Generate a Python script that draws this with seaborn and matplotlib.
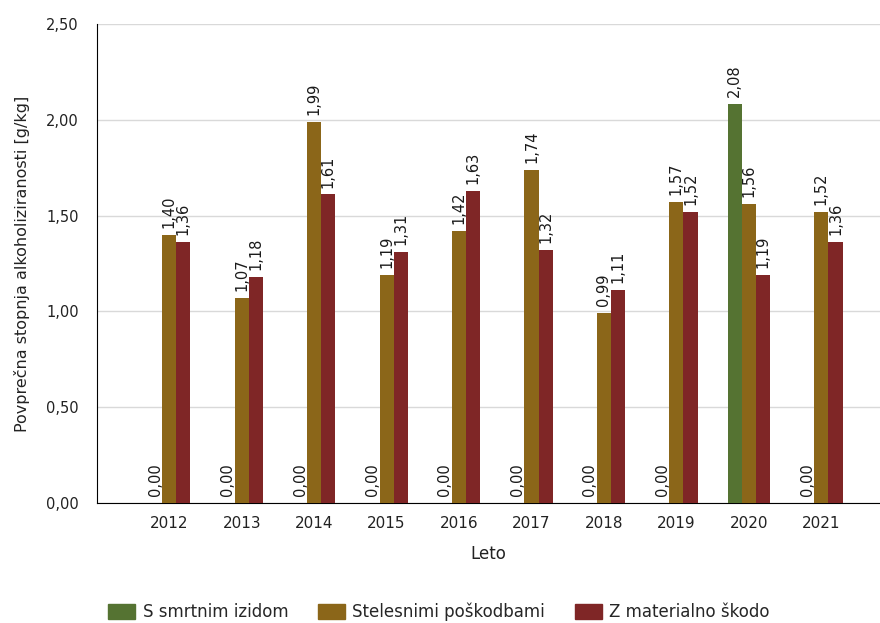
import pandas as pd
import matplotlib
matplotlib.use('Agg')
import matplotlib.pyplot as plt
import seaborn as sns

years = ['2012', '2013', '2014', '2015', '2016', '2017', '2018', '2019', '2020', '2021']
series = ['S smrtnim izidom', 'Stelesnimi poškodbami', 'Z materialno škodo']
smrtni = [0.00, 0.00, 0.00, 0.00, 0.00, 0.00, 0.00, 0.00, 2.08, 0.00]
telesne = [1.40, 1.07, 1.99, 1.19, 1.42, 1.74, 0.99, 1.57, 1.56, 1.52]
materialne = [1.36, 1.18, 1.61, 1.31, 1.63, 1.32, 1.11, 1.52, 1.19, 1.36]
colors = ['#557332', '#8b6619', '#7f2626']

# long format for seaborn
rows = []
for name, vals in zip(series, [smrtni, telesne, materialne]):
    for y, v in zip(years, vals):
        rows.append({'Leto': y, 'Vrsta': name, 'Vrednost': v})
df = pd.DataFrame(rows)

sns.set_style('white')
plt.rcParams['font.family'] = ['DejaVu Sans']

fig = plt.figure(figsize=(8.8, 6.23), dpi=100)
ax = fig.add_axes([0.110, 0.1926, 0.89, 0.769])

sns.barplot(data=df, x='Leto', y='Vrednost', hue='Vrsta', order=years, hue_order=series,
            palette=colors, saturation=1, width=0.585, ax=ax, legend=False,
            linewidth=0, edgecolor='none', zorder=3)

# vrednosti nad stolpci
for cont, vals in zip(ax.containers, [smrtni, telesne, materialne]):
    labs = [f'{v:.2f}'.replace('.', ',') for v in vals]
    ax.bar_label(cont, labels=labs, rotation=90, padding=5, fontsize=10.5, color='#1a1a1a')

ax.set_ylim(0, 2.5)
ax.set_yticks([0, 0.5, 1.0, 1.5, 2.0, 2.5])
ax.set_yticklabels(['0,00', '0,50', '1,00', '1,50', '2,00', '2,50'], fontsize=10.5)
ax.set_xlim(-1, 9.81)
ax.set_xticks(list(range(-1, 10)))
ax.set_xticklabels([''] + years, fontsize=11)
ax.grid(axis='y', color='#d9d9d9', linewidth=1, zorder=0)
ax.set_axisbelow(True)
for s in ['top', 'right']:
    ax.spines[s].set_visible(False)
ax.spines['left'].set_color('black')
ax.spines['bottom'].set_color('black')
ax.tick_params(axis='y', direction='out', length=8, color='black', pad=5, labelcolor='#222222')
ax.tick_params(axis='x', direction='out', length=5, color='black', pad=4, labelcolor='#222222')

ax.set_xlabel('Leto', fontsize=12, color='#222222')
ax.xaxis.set_label_coords(0.5, -0.087)
ax.set_ylabel('Povprečna stopnja alkoholiziranosti [g/kg]', fontsize=11.5, color='#222222')
ax.yaxis.set_label_coords(-0.085, 0.5)

handles = [plt.Rectangle((0, 0), 1, 1, color=c) for c in colors]
fig.legend(handles, series, loc='center', bbox_to_anchor=(0.499, 0.018), ncol=3,
           frameon=False, fontsize=12, handlelength=1.6, handleheight=1.0,
           columnspacing=1.8, handletextpad=0.45)

fig.savefig('out.png', dpi=100)
